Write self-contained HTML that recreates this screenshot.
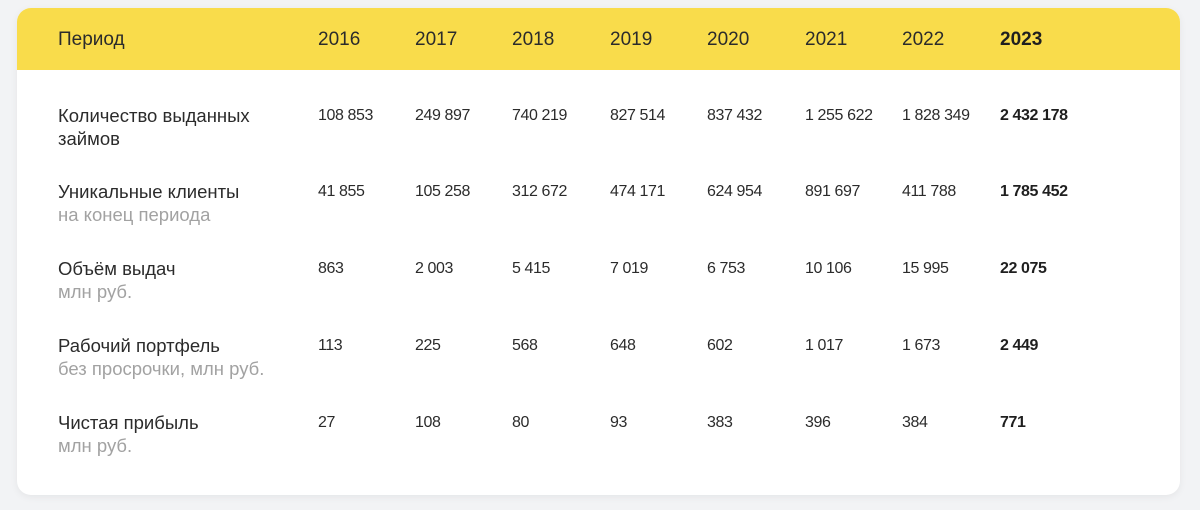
<!DOCTYPE html>
<html><head><meta charset="utf-8">
<style>
body{margin:0;width:1200px;height:510px;background:#f2f3f5;font-family:"Liberation Sans",sans-serif;overflow:hidden;position:relative}
.card{position:absolute;left:17px;top:8px;width:1163px;height:487px;background:#fff;border-radius:14px;box-shadow:0 2px 8px rgba(0,0,0,0.06);overflow:hidden}
.head{position:absolute;left:0;top:0;width:100%;height:62px;background:#f9dc4b}
.t{position:absolute;font-size:18.5px;color:#2b2b2b;white-space:nowrap;line-height:22px;transform:translateY(-11px)}
.h{font-size:19px}
.n{font-size:16px;letter-spacing:-0.4px}
.s{color:#a2a2a2}
.b{font-weight:bold;color:#1f1f1f}
</style></head>
<body>
<div class="card">
<div class="head"></div>
</div>
<div id="tbl"></div>
<script>
const years=["2016","2017","2018","2019","2020","2021","2022","2023"];
const rowLabels=["Количество выданных","Уникальные клиенты","Объём выдач","Рабочий портфель","Чистая прибыль"];
const rowSubs=["займов","на конец периода","млн руб.","без просрочки, млн руб.","млн руб."];
const loans=["108 853","249 897","740 219","827 514","837 432","1 255 622","1 828 349","2 432 178"];
const clients=["41 855","105 258","312 672","474 171","624 954","891 697","411 788","1 785 452"];
const volume=["863","2 003","5 415","7 019","6 753","10 106","15 995","22 075"];
const portfolio=["113","225","568","648","602","1 017","1 673","2 449"];
const profit=["27","108","80","93","383","396","384","771"];
const rows=[loans,clients,volume,portfolio,profit];
const colX=[318,415,512,610,707,805,902,1000];
const rowY=[116,192,269,346,423];
const tbl=document.getElementById('tbl');
function add(x,y,txt,cls,name){
  const d=document.createElement('div');
  d.className='t '+cls;d.style.left=x+'px';d.style.top=y+'px';d.textContent=txt;
  
  
  tbl.appendChild(d);
}
add(58,40,"Период","h","header-period");
years.forEach((y,i)=>add(colX[i],40,y,i===7?'h b':'h','header-year'));
rowLabels.forEach((l,r)=>{
  add(58,rowY[r],l,'','row-label');
  add(58,rowY[r]+23,rowSubs[r],r===0?'':'s','row-sublabel');
  rows[r].forEach((v,i)=>add(colX[i],rowY[r],v,i===7?'n b':'n','table-cell'));
});
</script>
</body></html>
